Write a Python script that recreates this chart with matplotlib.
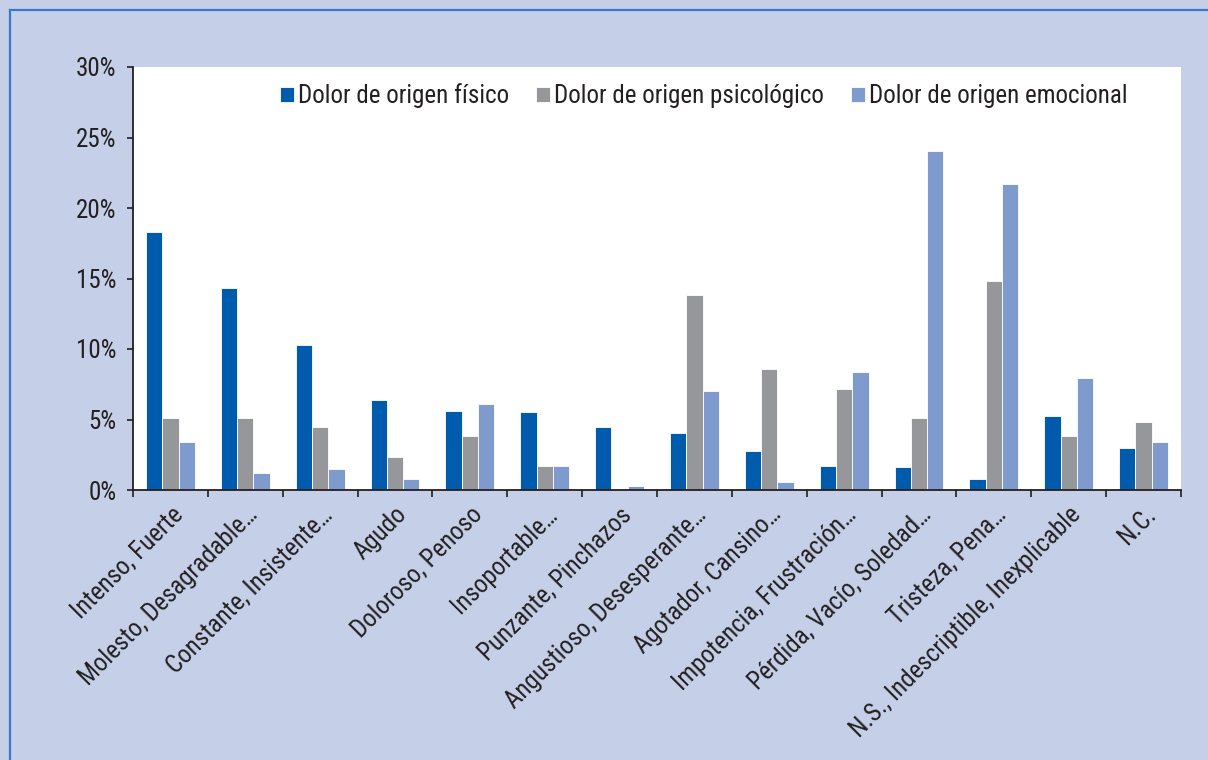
import numpy as np
import matplotlib as mpl
mpl.use('Agg')
import matplotlib.pyplot as plt
from matplotlib import font_manager
from matplotlib.lines import Line2D

# data (percentages)
categories = ['Intenso, Fuerte', 'Molesto, Desagradable…', 'Constante, Insistente…',
              'Agudo', 'Doloroso, Penoso', 'Insoportable…', 'Punzante, Pinchazos',
              'Angustioso, Desesperante…', 'Agotador, Cansino…', 'Impotencia, Frustración…',
              'Pérdida, Vacío, Soledad…', 'Tristeza, Pena…',
              'N.S., Indescriptible, Inexplicable', 'N.C.']
fisico = [18.3, 14.3, 10.3, 6.4, 5.6, 5.5, 4.45, 4.05, 2.75, 1.7, 1.6, 0.8, 5.25, 3.0]
psicologico = [5.1, 5.1, 4.45, 2.37, 3.8, 1.7, 0.0, 13.8, 8.6, 7.18, 5.1, 14.83, 3.8, 4.83]
emocional = [3.4, 1.2, 1.47, 0.8, 6.13, 1.7, 0.28, 7.04, 0.57, 8.34, 24.05, 21.7, 7.94, 3.4]
series_names = ['Dolor de origen físico', 'Dolor de origen psicológico', 'Dolor de origen emocional']
yticks = [0, 5, 10, 15, 20, 25, 30]

# pick a narrow font if one is there
available = set(f.name for f in font_manager.fontManager.ttflist)
family = 'DejaVu Sans'
for name in ['Liberation Sans Narrow', 'DejaVu Sans Condensed', 'Roboto Condensed', 'Liberation Sans']:
    if name in available:
        family = name
        break
plt.rcParams['font.family'] = [family, 'DejaVu Sans']

txt_color = '#231F20'
bg = '#C5D0E8'
colors = ['#005BAC', '#96979B', '#7F9BCE']
fs = 18

fig = plt.figure(figsize=(12.08, 7.6), dpi=100)
fig.patch.set_facecolor(bg)
ax = fig.add_axes([133 / 1208, 270 / 760, (1181 - 133) / 1208, (490 - 67) / 760])
ax.set_facecolor('white')

x = np.arange(len(categories))
w = 0.218
for i, (vals, c) in enumerate(zip([fisico, psicologico, emocional], colors)):
    ax.bar(x + (i - 1) * w, vals, width=w, color=c, edgecolor='white',
           linewidth=0.6, label=series_names[i], zorder=2)

ax.set_xlim(-0.5, len(categories) - 0.5)
ax.set_ylim(0, 30)
ax.set_yticks(yticks)
ax.set_yticklabels([f'{t}%' for t in yticks], fontsize=fs, color=txt_color)
ax.set_xticks(np.arange(len(categories) + 1) - 0.5)
ax.set_xticklabels([])
ax.set_xticks(x, minor=True)
ax.set_xticklabels(categories, minor=True, rotation=45, ha='right', va='top',
                   rotation_mode='anchor', fontsize=fs, color=txt_color)
ax.tick_params(axis='x', which='minor', length=0, pad=9)
ax.tick_params(axis='x', which='major', length=5, width=1.2, color=txt_color, direction='out')
ax.tick_params(axis='y', length=4, width=1.2, color=txt_color, pad=8)

for s in ['top', 'right']:
    ax.spines[s].set_visible(False)
for s in ['left', 'bottom']:
    ax.spines[s].set_color(txt_color)
    ax.spines[s].set_linewidth(1.3)

leg = ax.legend(loc='upper left', bbox_to_anchor=(0.125, 1.0), ncol=3, frameon=False,
                fontsize=fs, handlelength=0.55, handleheight=0.55, handletextpad=0.15,
                columnspacing=1.1, borderaxespad=0.25)
for t in leg.get_texts():
    t.set_color(txt_color)

# blue frame lines along top and left edges
fig.add_artist(Line2D([10 / 1208, 1.0], [1 - 10 / 760, 1 - 10 / 760], color='#3A78C8', lw=1.6))
fig.add_artist(Line2D([10 / 1208, 10 / 1208], [0.0, 1 - 10 / 760], color='#3A78C8', lw=1.6))

fig.savefig('out.png', dpi=100, facecolor=bg)
